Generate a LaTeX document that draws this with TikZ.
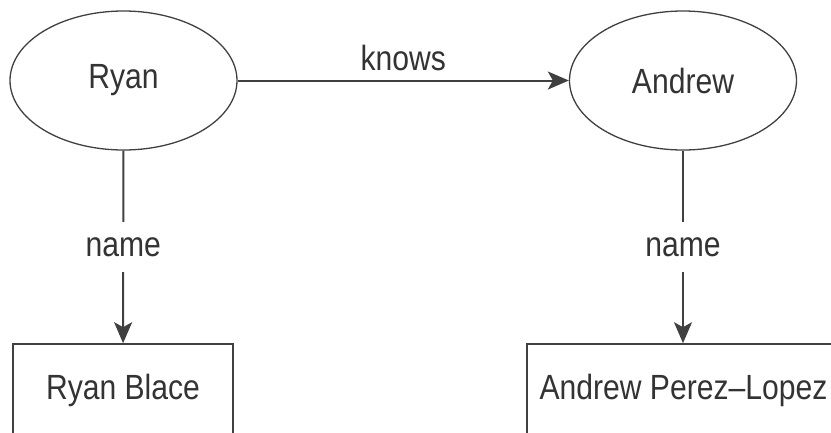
\documentclass[tikz,border=0pt]{standalone}
\usepackage{fontspec}
\setmainfont{Liberation Sans}[FakeStretch=0.86]
\usetikzlibrary{shapes.geometric,arrows.meta}
\begin{document}
\begin{tikzpicture}[x=1pt,y=-1pt,
  every node/.style={font=\fontsize{35}{40}\selectfont, text=black!80},
  ent/.style={ellipse, draw=black!75, line width=1.3pt, minimum width=227pt, minimum height=139pt, inner sep=0pt},
  lit/.style={rectangle, draw=black!75, line width=1.6pt, minimum height=92pt, inner sep=0pt},
  rel/.style={draw=black!75, line width=2pt, -{Stealth[length=21pt,width=18pt,inset=5pt]}},
  lbl/.style={fill=white, inner xsep=2pt, inner ysep=15pt}
]
\useasboundingbox (0,0) rectangle (831,432);
\clip (0,0) rectangle (831,432);
\node[ent] (ryan) at (123.5,80.5) {Ryan};
\node[ent] (andrew) at (683,80.5) {Andrew};
\node[lit, minimum width=220pt] (rb) at (123,390) {Ryan Blace};
\node[lit, minimum width=313pt] (ap) at (683.5,390) {Andrew Perez--Lopez};
\draw[rel] (ryan) -- node[above=5pt]{knows} (andrew);
\draw[rel] (ryan) -- node[lbl]{name} (rb);
\draw[rel] (andrew) -- node[lbl]{name} (andrew |- ap.north);
\end{tikzpicture}
\end{document}
